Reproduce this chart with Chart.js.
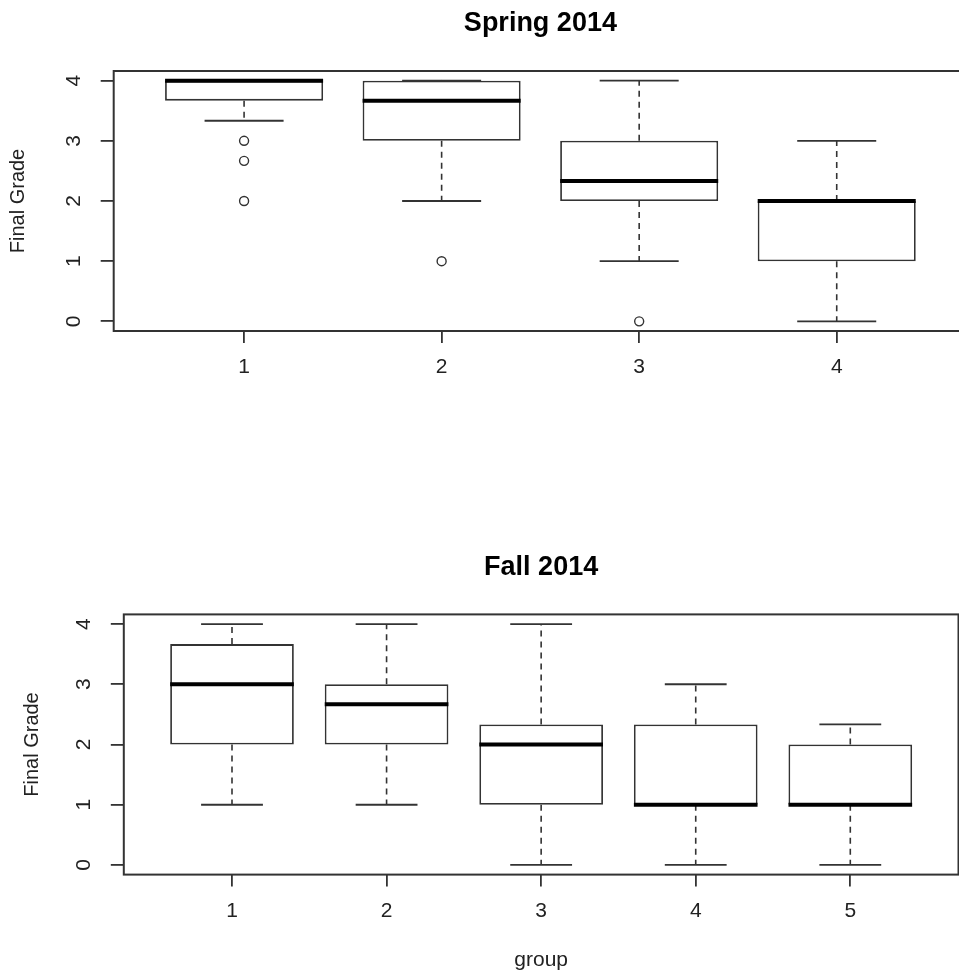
<!DOCTYPE html>
<html>
<head>
<meta charset="utf-8">
<script src="https://cdn.jsdelivr.net/npm/chart.js@4.4.0/dist/chart.umd.min.js"></script>
<style>
  html, body { margin: 0; padding: 0; background: #fff; overflow: hidden; }
  #wrap { position: relative; width: 959px; height: 973px; overflow: hidden; }
  canvas { position: absolute; left: 0; }
  #spring { top: 0; }
  #fall { top: 490px; }
</style>
</head>
<body>
<div id="wrap">
  <canvas id="spring" width="973" height="480"></canvas>
  <canvas id="fall" width="959" height="483"></canvas>
</div>
<script>
// Spring 2014 boxes (groups 1-4)
const springGroups = [1, 2, 3, 4];
const springLow = [3.333, 2, 1, 0];
const springQ1 = [3.667, 3, 2, 1];
const springMedian = [4, 3.667, 2.333, 2];
const springQ3 = [4, 4, 3, 2];
const springHigh = [4, 4, 4, 3];
const springOutliers = [[3, 2.667, 2], [1], [0], []];

// Fall 2014 boxes (groups 1-5)
const fallGroups = [1, 2, 3, 4, 5];
const fallLow = [1, 1, 0, 0, 0];
const fallQ1 = [2, 2, 1, 1, 1];
const fallMedian = [3, 2.667, 2, 1, 1];
const fallQ3 = [3.667, 3, 2.333, 2.333, 2];
const fallHigh = [4, 4, 4, 3, 2.333];
const fallOutliers = [[], [], [], [], []];

const gradeTicks = [0, 1, 2, 3, 4];
const gradeTickLabels = ['0', '1', '2', '3', '4'];
const springTickLabels = ['1', '2', '3', '4'];
const fallTickLabels = ['1', '2', '3', '4', '5'];

const FONT = '"Liberation Sans", Arial, sans-serif';
const INK = '#333';

function line(ctx, x1, y1, x2, y2) {
  ctx.beginPath();
  ctx.moveTo(x1, y1);
  ctx.lineTo(x2, y2);
  ctx.stroke();
}

// whiskers, medians and the frame, drawn through the chart scales
function boxParts(groups, low, q1, med, q3, high) {
  return {
    id: 'boxParts',
    afterDatasetsDraw(chart) {
      const ctx = chart.ctx;
      const x = chart.scales.x, y = chart.scales.y;
      const bars = chart.getDatasetMeta(0).data;
      ctx.save();
      groups.forEach((g, i) => {
        const px = x.getPixelForValue(g);
        const half = bars[i].width / 2;
        const cap = half / 2;
        const yLo = y.getPixelForValue(low[i]);
        const yQ1 = y.getPixelForValue(q1[i]);
        const yMed = y.getPixelForValue(med[i]);
        const yQ3 = y.getPixelForValue(q3[i]);
        const yHi = y.getPixelForValue(high[i]);
        ctx.strokeStyle = INK;
        ctx.lineWidth = 1.6;
        ctx.setLineDash([6, 5]);
        line(ctx, px, yQ3, px, yHi);
        line(ctx, px, yQ1, px, yLo);
        ctx.setLineDash([]);
        ctx.lineWidth = 1.8;
        line(ctx, px - cap, yHi, px + cap, yHi);
        line(ctx, px - cap, yLo, px + cap, yLo);
        ctx.strokeStyle = '#000';
        ctx.lineWidth = 4;
        line(ctx, px - half, yMed, px + half, yMed);
      });
      const a = chart.chartArea;
      ctx.strokeStyle = INK;
      ctx.lineWidth = 2;
      ctx.strokeRect(a.left, a.top, a.right - a.left, a.bottom - a.top);
      ctx.restore();
    }
  };
}

function makeChart(id, cfg) {
  const boxes = cfg.groups.map((g, i) => ({ x: g, y: [cfg.q1[i], cfg.q3[i]] }));
  const outs = cfg.outliers.flatMap((vals, i) => vals.map(v => ({ x: cfg.groups[i], y: v })));
  return new Chart(document.getElementById(id), {
    type: 'bar',
    data: {
      datasets: [
        {
          data: boxes,
          backgroundColor: '#fff',
          borderColor: INK,
          borderWidth: 1.8,
          borderSkipped: false,
          categoryPercentage: 1,
          barPercentage: 0.8
        },
        {
          type: 'scatter',
          data: outs,
          pointStyle: 'circle',
          pointRadius: 4.5,
          borderColor: INK,
          borderWidth: 1.4,
          backgroundColor: 'rgba(0,0,0,0)'
        }
      ]
    },
    options: {
      responsive: false,
      animation: false,
      devicePixelRatio: 1,
      layout: { padding: { left: 0, right: cfg.padRight, top: 0, bottom: 0 } },
      plugins: {
        legend: { display: false },
        tooltip: { enabled: false },
        title: {
          display: true,
          fullSize: false,
          text: cfg.title,
          color: '#000',
          font: { family: FONT, size: 27, weight: 'bold' },
          padding: cfg.titlePad
        }
      },
      scales: {
        x: {
          type: 'linear',
          offset: false,
          min: cfg.xMin,
          max: cfg.xMax,
          afterBuildTicks: s => { s.ticks = cfg.groups.map(v => ({ value: v })); },
          afterFit: s => { s.height = cfg.xAxisHeight; },
          ticks: {
            autoSkip: false,
            maxRotation: 0,
            padding: 12,
            color: '#222',
            font: { family: FONT, size: 21 },
            callback: (v, i) => cfg.tickLabels[i]
          },
          grid: { offset: false, drawOnChartArea: false, tickLength: 12, color: INK, lineWidth: 1.8 },
          border: { display: false },
          title: {
            display: !!cfg.xTitle,
            text: cfg.xTitle || '',
            color: '#222',
            font: { family: FONT, size: 21 },
            padding: { top: 0, bottom: 0 }
          }
        },
        y: {
          min: -0.16,
          max: 4.16,
          afterBuildTicks: s => { s.ticks = gradeTicks.map(v => ({ value: v })); },
          afterFit: s => { s.width = cfg.yAxisWidth; },
          ticks: {
            autoSkip: false,
            minRotation: 90,
            maxRotation: 90,
            crossAlign: 'center',
            padding: 21,
            color: '#222',
            font: { family: FONT, size: 21 },
            callback: (v, i) => gradeTickLabels[i]
          },
          grid: { drawOnChartArea: false, tickLength: 13, color: INK, lineWidth: 1.8 },
          border: { display: false },
          title: {
            display: true,
            text: 'Final Grade',
            color: '#222',
            font: { family: FONT, size: 20 },
            padding: { top: cfg.yTitlePad, bottom: 0 }
          }
        }
      }
    },
    plugins: [boxParts(cfg.groups, cfg.low, cfg.q1, cfg.median, cfg.q3, cfg.high)]
  });
}

makeChart('spring', {
  title: 'Spring 2014',
  groups: springGroups, low: springLow, q1: springQ1, median: springMedian,
  q3: springQ3, high: springHigh, outliers: springOutliers,
  tickLabels: springTickLabels,
  xMin: 0.34, xMax: 4.66,
  padRight: 2,
  titlePad: { top: 7, bottom: 31.6 },
  xAxisHeight: 149,
  yAxisWidth: 113.7,
  yTitlePad: 6.5
});

makeChart('fall', {
  title: 'Fall 2014',
  xTitle: 'group',
  groups: fallGroups, low: fallLow, q1: fallQ1, median: fallMedian,
  q3: fallQ3, high: fallHigh, outliers: fallOutliers,
  tickLabels: fallTickLabels,
  xMin: 0.3, xMax: 5.7,
  padRight: 0.5,
  titlePad: { top: 61.3, bottom: 30.7 },
  xAxisHeight: 98.4,
  yAxisWidth: 123.8,
  yTitlePad: 20.3
});
</script>
</body>
</html>
